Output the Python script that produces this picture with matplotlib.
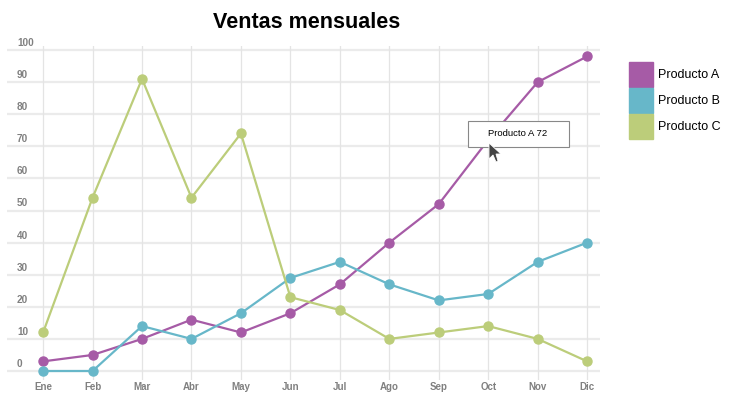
import matplotlib.pyplot as plt
from matplotlib.patches import Polygon, Rectangle
import numpy as np

meses = ["Ene", "Feb", "Mar", "Abr", "May", "Jun", "Jul", "Ago", "Sep", "Oct", "Nov", "Dic"]
producto_a = [3, 5, 10, 16, 12, 18, 27, 40, 52, 72, 90, 98]
producto_b = [0, 0, 14, 10, 18, 29, 34, 27, 22, 24, 34, 40]
producto_c = [12, 54, 91, 54, 74, 23, 19, 10, 12, 14, 10, 3]
y_ticks = [0, 10, 20, 30, 40, 50, 60, 70, 80, 90, 100]

series = [("Producto A", producto_a, "#a65ba6"),
          ("Producto B", producto_b, "#67b7c9"),
          ("Producto C", producto_c, "#bccd7a")]

plt.rcParams['font.family'] = ['Liberation Sans', 'DejaVu Sans']

W, H = 731, 407
fig = plt.figure(figsize=(W / 100, H / 100), dpi=100)
ax = fig.add_axes([7 / W, 1 - 380 / H, 593 / W, 334 / H])

x = np.arange(len(meses))
for name, vals, col in series:
    ax.plot(x, vals, color=col, lw=1.6, marker='o', ms=6.5, label=name, zorder=3)

ax.set_xlim(-0.73, 11.26)
ax.set_ylim(-2.8, 101.25)
for v in y_ticks:
    ax.axhline(v, color='#ebebeb', lw=1.6, zorder=1)
for xi in x:
    ax.axvline(xi, color='#e4e4e4', lw=0.9, zorder=1)
for s in ax.spines.values():
    s.set_visible(False)
ax.set_xticks([])
ax.set_yticks([])

for v in y_ticks:
    ax.annotate(str(v), (17 / W, v), xycoords=('figure fraction', 'data'),
                xytext=(0, 1.5), textcoords='offset points',
                ha='left', va='bottom', fontsize=7.2, fontweight='bold', color='#808080')
for xi, m in zip(x, meses):
    ax.annotate(m, (xi, 1 - 387 / H), xycoords=('data', 'figure fraction'),
                ha='center', va='center', fontsize=7, fontweight='bold', color='#808080')

fig.text(307 / W, 1 - 22 / H, "Ventas mensuales", ha='center', va='center',
         fontsize=15.5, fontweight='bold', color='black')

# legend
for i, (name, vals, col) in enumerate(series):
    top = 62 + i * 26
    fig.patches.append(Rectangle((629 / W, 1 - (top + 25) / H), 24 / W, 25 / H,
                                 transform=fig.transFigure, color=col, figure=fig))
    fig.text(658 / W, 1 - (top + 13) / H, name, ha='left', va='center',
             fontsize=9, color='black')

# tooltip
fig.patches.append(Rectangle((468 / W, 1 - 147 / H), 101 / W, 26 / H,
                             transform=fig.transFigure, fc='white', ec='#888888',
                             lw=0.8, figure=fig, zorder=5))
fig.text(518 / W, 1 - 134 / H, "Producto A 72", ha='center', va='center',
         fontsize=6.8, color='black', zorder=6)
cx, cy = 489, 143
cursor = [(0, 0), (0, 16), (4, 12), (7, 19), (9, 18), (7, 11), (12, 11)]
fig.patches.append(Polygon([((cx + px) / W, 1 - (cy + py) / H) for px, py in cursor],
                           closed=True, transform=fig.transFigure, fc='#444444',
                           ec='white', lw=0.6, figure=fig, zorder=7))

fig.savefig("out.png", dpi=100)
